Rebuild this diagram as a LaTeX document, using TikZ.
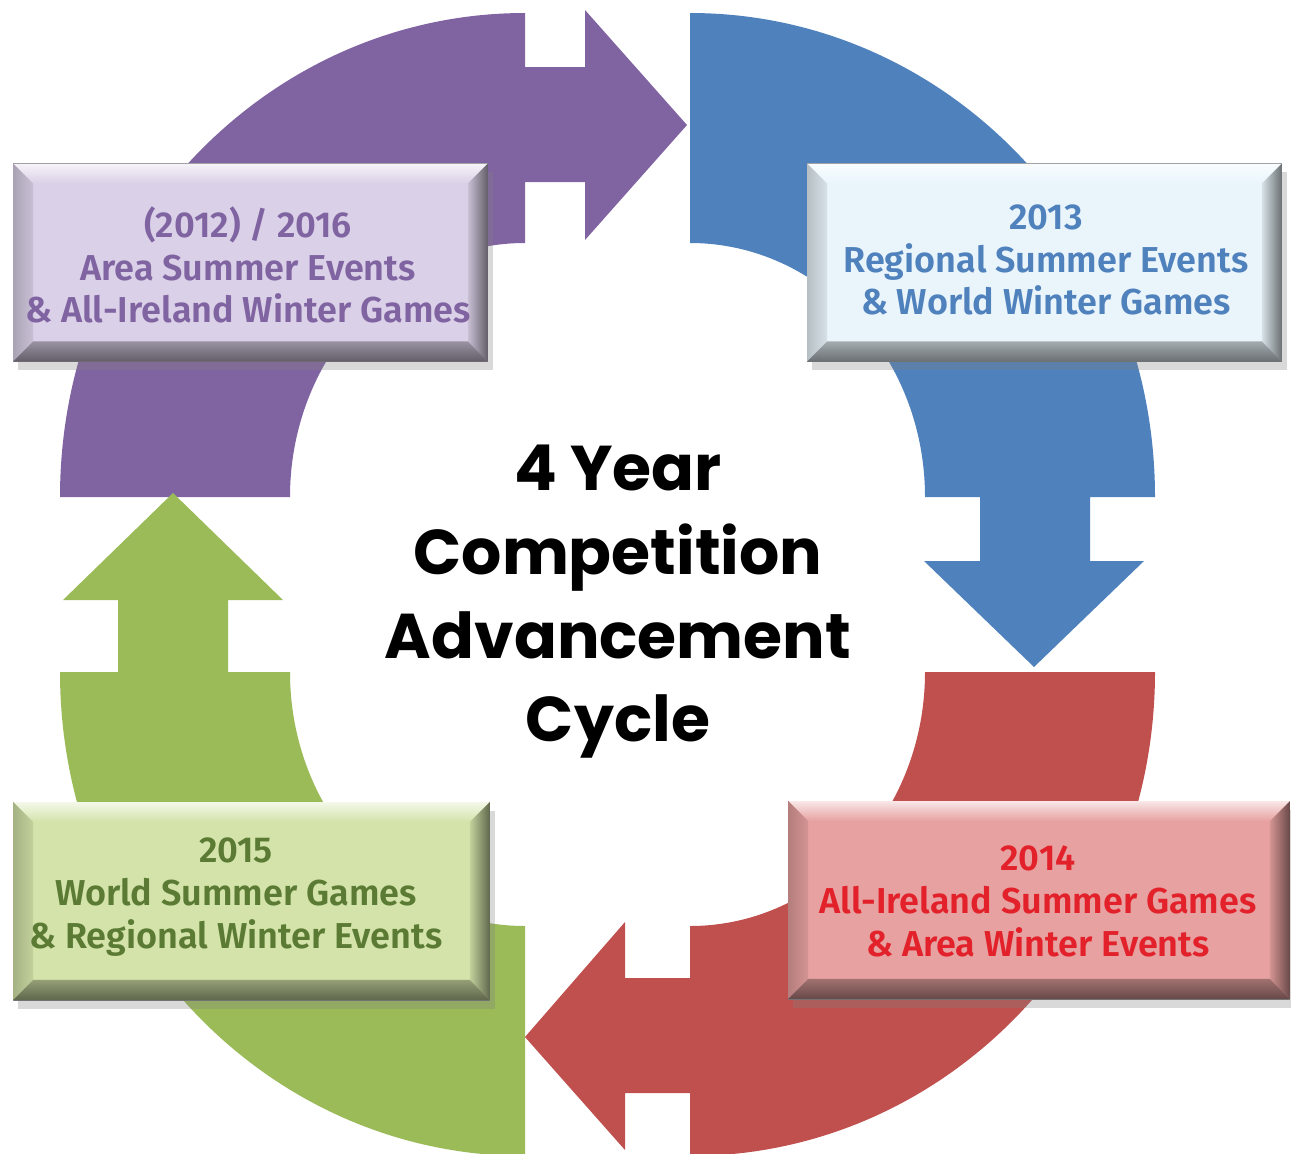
\documentclass[tikz,border=0pt]{standalone}
\usepackage{fontspec}
\setmainfont{Fira Sans}
\newfontfamily\boxfont{Fira Sans SemiBold}
\newfontfamily\titlefont{Poppins}
\usetikzlibrary{shadows}
\definecolor{cpurple}{HTML}{8064A2}
\definecolor{cblue}{HTML}{4F81BD}
\definecolor{cred}{HTML}{C0504D}
\definecolor{cgreen}{HTML}{9BBB59}
\definecolor{fpurple}{HTML}{DAD0E7}
\definecolor{fblue}{HTML}{E9F5FB}
\definecolor{fgreen}{HTML}{D3E3A9}
\definecolor{fred}{HTML}{E6A1A0}
\definecolor{tpurple}{HTML}{8064A2}
\definecolor{tblue}{HTML}{4F81BD}
\definecolor{tgreen}{HTML}{5B7B34}
\definecolor{tred}{HTML}{E2212B}
\tikzset{
  yearbox/.style={inner sep=0pt, outer sep=0pt, minimum height=3.96cm,
    draw=black!55, line width=0.6pt,
    drop shadow={shadow xshift=3pt, shadow yshift=-5pt, opacity=.3}},
  yeartext/.style={font=\boxfont\fontsize{20.5}{24.4}\selectfont, align=center}
}
% bevelled box: name, centre, width, fill colour
\newcommand{\bevelbox}[4]{
  \node[yearbox, fill=#4, minimum width=#3] (#1) at #2 {};
  \shade[top color=#4!25!white, bottom color=#4] (#1.north west) -- (#1.north east) -- ([shift={(-\bw,\bw)}]#1.north east) -- ([shift={(\bw,\bw)}]#1.north west) -- cycle;
  \shade[left color=#4!78!black, right color=#4!92!black] (#1.north west) -- ([shift={(\bw,\bw)}]#1.north west) -- ([shift={(\bw,-\bw)}]#1.south west) -- (#1.south west) -- cycle;
  \shade[left color=#4!92!black, right color=#4!45!black] (#1.north east) -- ([shift={(-\bw,\bw)}]#1.north east) -- ([shift={(-\bw,-\bw)}]#1.south east) -- (#1.south east) -- cycle;
  \shade[top color=#4!70!black, bottom color=#4!45!black] (#1.south west) -- ([shift={(\bw,-\bw)}]#1.south west) -- ([shift={(-\bw,-\bw)}]#1.south east) -- (#1.south east) -- cycle;
}
\begin{document}
\begin{tikzpicture}[x=0.02cm, y=-0.02cm, line join=round]
\def\bw{20} % bevel width
\def\rx{465} \def\ry{484} % outer radii
\def\ix{235} \def\iy{254} % inner radii
\useasboundingbox (0,0) rectangle (1291,1153);
% quarter arrows
\fill[cpurple] (60,497) arc[start angle=180, end angle=270, x radius=\rx, y radius=\ry]
  -- (525,67) -- (585,67) -- (585,10) -- (687,125) -- (585,240) -- (585,182) -- (525,182)
  -- (525,243) arc[start angle=270, end angle=180, x radius=\ix, y radius=\iy] -- cycle;
\fill[cblue] (690,13) arc[start angle=270, end angle=360, x radius=\rx, y radius=\ry]
  -- (1090,497) -- (1090,561) -- (1144,561) -- (1034,667) -- (924,561) -- (980,561) -- (980,497)
  -- (925,497) arc[start angle=360, end angle=270, x radius=\ix, y radius=\iy] -- cycle;
\fill[cred] (1155,672) arc[start angle=0, end angle=90, x radius=\rx, y radius=\ry]
  -- (690,1093) -- (625,1093) -- (625,1150) -- (525,1037) -- (625,922) -- (625,978) -- (690,978)
  -- (690,926) arc[start angle=90, end angle=0, x radius=\ix, y radius=\iy] -- cycle;
\fill[cgreen] (525,1156) arc[start angle=90, end angle=180, x radius=\rx, y radius=\ry]
  -- (118,672) -- (118,600) -- (63,600) -- (173,493) -- (283,600) -- (228,600) -- (228,672)
  -- (290,672) arc[start angle=180, end angle=90, x radius=\ix, y radius=\iy] -- cycle;
% boxes
\bevelbox{b12}{(250.5,262.5)}{9.5cm}{fpurple}
\bevelbox{b13}{(1044.5,262.5)}{9.5cm}{fblue}
\bevelbox{b14}{(1039,900)}{10.04cm}{fred}
\bevelbox{b15}{(251.5,901)}{9.54cm}{fgreen}
\node[yeartext, text=tpurple] (t12) at (248,265) {(2012) / 2016\\Area Summer Events\\\& All-Ireland Winter Games};
\node[yeartext, text=tblue] (t13) at (1046,260) {2013\\Regional Summer Events\\\& World Winter Games};
\node[yeartext, text=tred] (t14) at (1038,901) {2014\\All-Ireland Summer Games\\\& Area Winter Events};
\node[yeartext, text=tgreen] (t15) at (236,897) {2015\\World Summer Games\\\& Regional Winter Events};
% centre title
\node[font=\titlefont\bfseries\fontsize{36}{47.6}\selectfont, align=center] (title) at (618,602)
  {4 Year\\Competition\\Advancement\\Cycle};
\end{tikzpicture}
\end{document}
